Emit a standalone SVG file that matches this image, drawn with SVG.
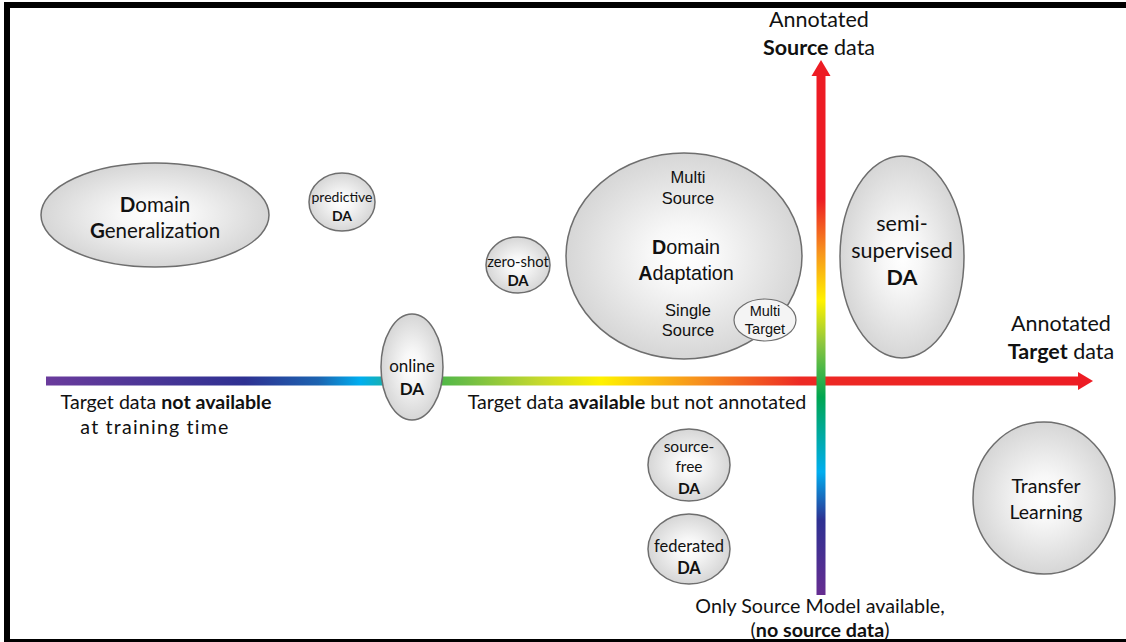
<svg xmlns="http://www.w3.org/2000/svg" width="1126" height="642" viewBox="0 0 1126 642">
<defs>
<radialGradient id="eg" cx="50%" cy="50%" r="50%">
<stop offset="0" stop-color="#ffffff"/>
<stop offset="0.3" stop-color="#f7f7f7"/>
<stop offset="1" stop-color="#d6d6d6"/>
</radialGradient>
<linearGradient id="hg" gradientUnits="userSpaceOnUse" x1="46" y1="0" x2="1093" y2="0">
<stop offset="0" stop-color="#6a3b9c"/>
<stop offset="0.19" stop-color="#2e3192"/>
<stop offset="0.26" stop-color="#1c63b0"/>
<stop offset="0.30" stop-color="#00aeef"/>
<stop offset="0.36" stop-color="#3cb54a"/>
<stop offset="0.40" stop-color="#6cbd45"/>
<stop offset="0.47" stop-color="#c4d82e"/>
<stop offset="0.53" stop-color="#fff200"/>
<stop offset="0.62" stop-color="#f7941d"/>
<stop offset="0.72" stop-color="#ed2a24"/>
<stop offset="1" stop-color="#ed1c24"/>
</linearGradient>
<linearGradient id="vg" gradientUnits="userSpaceOnUse" x1="0" y1="60" x2="0" y2="595">
<stop offset="0" stop-color="#ed1c24"/>
<stop offset="0.26" stop-color="#ed1c24"/>
<stop offset="0.36" stop-color="#f7941d"/>
<stop offset="0.45" stop-color="#fff200"/>
<stop offset="0.53" stop-color="#8dc63f"/>
<stop offset="0.63" stop-color="#00a651"/>
<stop offset="0.77" stop-color="#00aeef"/>
<stop offset="0.86" stop-color="#2e3192"/>
<stop offset="1" stop-color="#662d91"/>
</linearGradient>
<style>
.el{fill:url(#eg);stroke:#6e6e6e;stroke-width:1.5}
.c{font-family:Lato,"Liberation Sans",sans-serif;fill:#111;text-anchor:middle}
.a{font-family:"Liberation Sans",Arial,sans-serif;fill:#111;text-anchor:middle}
.b{font-weight:bold}
</style>
</defs>
<rect x="0" y="0" width="1126" height="642" fill="#ffffff"/>
<g id="frame" fill="#000">
<rect x="4" y="2" width="1122" height="6"/>
<rect x="4" y="2" width="6" height="640"/>
<rect x="4" y="639" width="1122" height="3"/>
</g>
<g id="connectors">
<rect x="46" y="376.5" width="1034" height="9" fill="url(#hg)"/>
<polygon points="1078,372 1093,381 1078,390" fill="#ed1c24"/>
<rect x="816.5" y="74" width="9" height="521" fill="url(#vg)"/>
<polygon points="811.5,76 821,60 830.5,76" fill="#ed1c24"/>
</g>
<g id="axis-labels">
<text class="c" x="819" y="27" font-size="21.5">Annotated</text>
<text class="c" x="819" y="55" font-size="21.5"><tspan class="b">Source</tspan> data</text>
<text class="c" x="1061" y="331" font-size="21.5">Annotated</text>
<text class="c" x="1061" y="359" font-size="21.5"><tspan class="b">Target</tspan> data</text>
<text class="c" x="166" y="409" font-size="19.6">Target data <tspan class="b">not available</tspan></text>
<text class="c" x="155" y="434" font-size="19.6" letter-spacing="1.2">at training time</text>
<text class="c" x="637" y="409" font-size="19.7">Target data <tspan class="b">available</tspan> but not annotated</text>
<text class="c" x="820" y="613" font-size="19.7">Only Source Model available,</text>
<text class="c" x="820" y="637" font-size="19.7">(<tspan class="b">no source data</tspan>)</text>
</g>
<g id="domain-generalization">
<ellipse class="el" cx="155" cy="215" rx="114" ry="52"/>
<text class="c" x="155" y="212" font-size="20.5"><tspan class="b">D</tspan>omain</text>
<text class="c" x="155" y="238" font-size="20.5"><tspan class="b">G</tspan>eneralization</text>
</g>
<g id="predictive-da">
<ellipse class="el" cx="342" cy="202" rx="33" ry="29"/>
<text class="c" x="342" y="202" font-size="14">predictive</text>
<text class="c b" x="342" y="221" font-size="14">DA</text>
</g>
<g id="zero-shot-da">
<ellipse class="el" cx="518" cy="265" rx="32" ry="28"/>
<text class="c" x="518" y="267" font-size="14.8">zero-shot</text>
<text class="c b" x="518" y="286" font-size="14.8">DA</text>
</g>
<g id="domain-adaptation">
<ellipse class="el" cx="684" cy="256" rx="118" ry="103"/>
<text class="a" x="688" y="183" font-size="16.5">Multi</text>
<text class="a" x="688" y="204" font-size="16.5">Source</text>
<text class="a" x="686" y="254" font-size="19.8"><tspan class="b">D</tspan>omain</text>
<text class="a" x="686" y="280" font-size="19.8"><tspan class="b">A</tspan>daptation</text>
<text class="a" x="688" y="316" font-size="16.5">Single</text>
<text class="a" x="688" y="336" font-size="16.5">Source</text>
</g>
<g id="multi-target">
<ellipse cx="765" cy="320" rx="31" ry="21" fill="#f4f4f4" stroke="#6e6e6e" stroke-width="1.2"/>
<text class="a" x="765" y="316" font-size="14.5">Multi</text>
<text class="a" x="765" y="334" font-size="14.5">Target</text>
</g>
<g id="semi-supervised-da">
<ellipse class="el" cx="902" cy="257" rx="62" ry="101"/>
<text class="c" x="902" y="231" font-size="21.5">semi-</text>
<text class="c" x="902" y="258" font-size="21.5">supervised</text>
<text class="c b" x="902" y="285" font-size="21.5">DA</text>
</g>
<g id="online-da">
<ellipse class="el" cx="412" cy="367" rx="31" ry="53"/>
<text class="c" x="412" y="372" font-size="17">online</text>
<text class="c b" x="412" y="395" font-size="17">DA</text>
</g>
<g id="source-free-da">
<ellipse class="el" cx="689" cy="465" rx="41" ry="36"/>
<text class="c" x="689" y="452" font-size="15.5">source-</text>
<text class="c" x="689" y="472" font-size="15.5">free</text>
<text class="c b" x="689" y="494" font-size="15.5">DA</text>
</g>
<g id="federated-da">
<ellipse class="el" cx="689" cy="549" rx="41" ry="35"/>
<text class="c" x="689" y="552" font-size="16.5">federated</text>
<text class="c b" x="689" y="574" font-size="16.5">DA</text>
</g>
<g id="transfer-learning">
<ellipse class="el" cx="1044" cy="498" rx="71" ry="76"/>
<text class="c" x="1046" y="493" font-size="19.5">Transfer</text>
<text class="c" x="1046" y="519" font-size="19.5">Learning</text>
</g>
</svg>
